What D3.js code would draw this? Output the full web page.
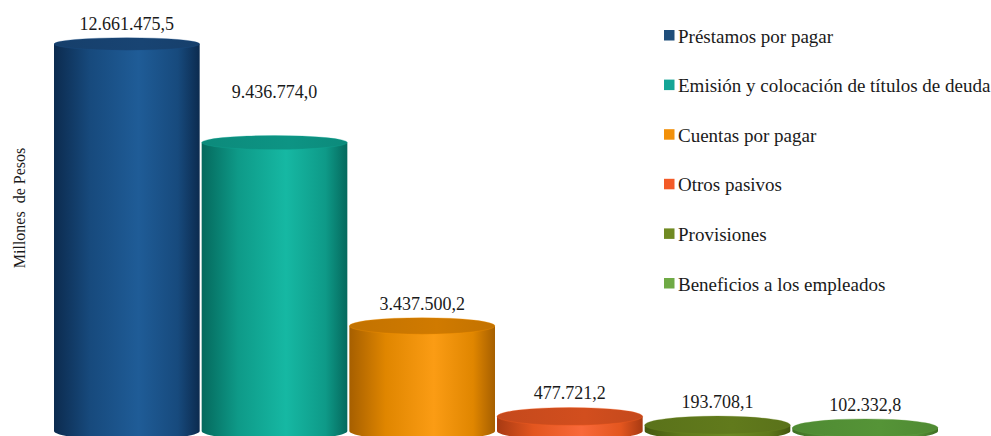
<!DOCTYPE html>
<html>
<head>
<meta charset="utf-8">
<script src="https://cdn.jsdelivr.net/npm/d3@7"></script>
<style>
html,body{margin:0;padding:0;background:#fff;}
svg{display:block;}
</style>
</head>
<body>
<svg id="chart" width="991" height="436"></svg>
<script>
// ---- data ----
const categories = ["Préstamos por pagar","Emisión y colocación de títulos de deuda","Cuentas por pagar","Otros pasivos","Provisiones","Beneficios a los empleados"];
const values = [12661475.5, 9436774.0, 3437500.2, 477721.2, 193708.1, 102332.8];
const valueLabels = ["12.661.475,5","9.436.774,0","3.437.500,2","477.721,2","193.708,1","102.332,8"];
const axisTitle = "Millones  de Pesos";

// ---- styling / layout ----
const FONT = "'Liberation Serif', Tinos, 'Times New Roman', Times, 'DejaVu Serif', serif";
const colors = [
  {legend:"#1f4e7b", dark:"#0c2b4f", mid:"#174a7d", light:"#1f5c97", top:"#163f6b"},
  {legend:"#14a596", dark:"#05695d", mid:"#0e9a88", light:"#16b8a3", top:"#0c8a7b"},
  {legend:"#f29009", dark:"#a65f00", mid:"#e08600", light:"#fb9c14", top:"#c27200"},
  {legend:"#f35a27", dark:"#a83a12", mid:"#e3561f", light:"#f9693a", top:"#c4491c"},
  {legend:"#708a22", dark:"#44580f", mid:"#5f791b", light:"#6c8824", top:"#5a721a"},
  {legend:"#6faa45", dark:"#3f6f23", mid:"#56923a", light:"#64a443", top:"#4f8a33"}
];
const labelLift = [0, 30, 0, 0, 0, 0];

const svg = d3.select("#chart");
const defs = svg.append("defs");

const x = d3.scaleBand().domain(categories).range([53, 939]).paddingInner(0).paddingOuter(0);
const y = d3.scaleLinear().domain([0, 12661475.5]).range([431, 44]);

colors.forEach((c, i) => {
  const g = defs.append("linearGradient").attr("id", "grad" + i)
    .attr("x1", "0%").attr("x2", "100%").attr("y1", "0%").attr("y2", "0%");
  g.append("stop").attr("offset", "0%").attr("stop-color", c.dark);
  g.append("stop").attr("offset", "25%").attr("stop-color", c.mid);
  g.append("stop").attr("offset", "58%").attr("stop-color", c.light);
  g.append("stop").attr("offset", "85%").attr("stop-color", c.mid);
  g.append("stop").attr("offset", "100%").attr("stop-color", c.dark);
  const t = defs.append("linearGradient").attr("id", "top" + i)
    .attr("x1", "0%").attr("x2", "100%").attr("y1", "0%").attr("y2", "0%");
  t.append("stop").attr("offset", "0%").attr("stop-color", c.top);
  t.append("stop").attr("offset", "60%").attr("stop-color", d3.color(c.top).brighter(0.2));
  t.append("stop").attr("offset", "100%").attr("stop-color", c.top);
});

const y0 = y(0);
function ry(cy){ return 6 + 3 * (cy / 430); }

const bars = svg.append("g").selectAll("g").data(values).join("g");

bars.each(function(v, i){
  const g = d3.select(this);
  const x0 = x(categories[i]) + 1, w = x.bandwidth() - 2;
  const rx = w / 2, cx = x0 + rx;
  const cyTop = y(v), rTop = ry(cyTop), rBot = ry(y0);
  const body = `M${x0},${cyTop} L${x0},${y0} A${rx},${rBot} 0 0 0 ${x0 + w},${y0} L${x0 + w},${cyTop} Z`;
  g.append("path").attr("d", body).attr("fill", `url(#grad${i})`);
  g.append("ellipse").attr("cx", cx).attr("cy", cyTop).attr("rx", rx).attr("ry", rTop)
    .attr("fill", `url(#top${i})`)
    .attr("stroke", d3.color(colors[i].mid).brighter(0.3)).attr("stroke-width", 0.6).attr("stroke-opacity", 0.5);
  g.append("text")
    .attr("x", cx).attr("y", cyTop - rTop - 8 - labelLift[i])
    .attr("text-anchor", "middle").attr("font-size", 18)
    .attr("font-family", FONT).attr("fill", "#1a1a1a")
    .text(valueLabels[i]);
});

// axis title
svg.append("text")
  .attr("transform", "translate(25,208) rotate(-90)")
  .attr("text-anchor", "middle").attr("font-size", 16)
  .attr("font-family", FONT).attr("fill", "#1a1a1a")
  .attr("xml:space", "preserve")
  .style("white-space", "pre")
  .text(axisTitle);

// legend
const leg = svg.append("g").selectAll("g").data(categories).join("g")
  .attr("transform", (d, i) => `translate(664,${35.5 + i * 49.6})`);
leg.append("rect").attr("x", 0).attr("y", -5.5).attr("width", 10.5).attr("height", 10.5)
  .attr("fill", (d, i) => colors[i].legend);
leg.append("text").attr("x", 14).attr("y", 7).attr("font-size", 19)
  .attr("font-family", FONT).attr("fill", "#1a1a1a")
  .text(d => d);
</script>
</body>
</html>
